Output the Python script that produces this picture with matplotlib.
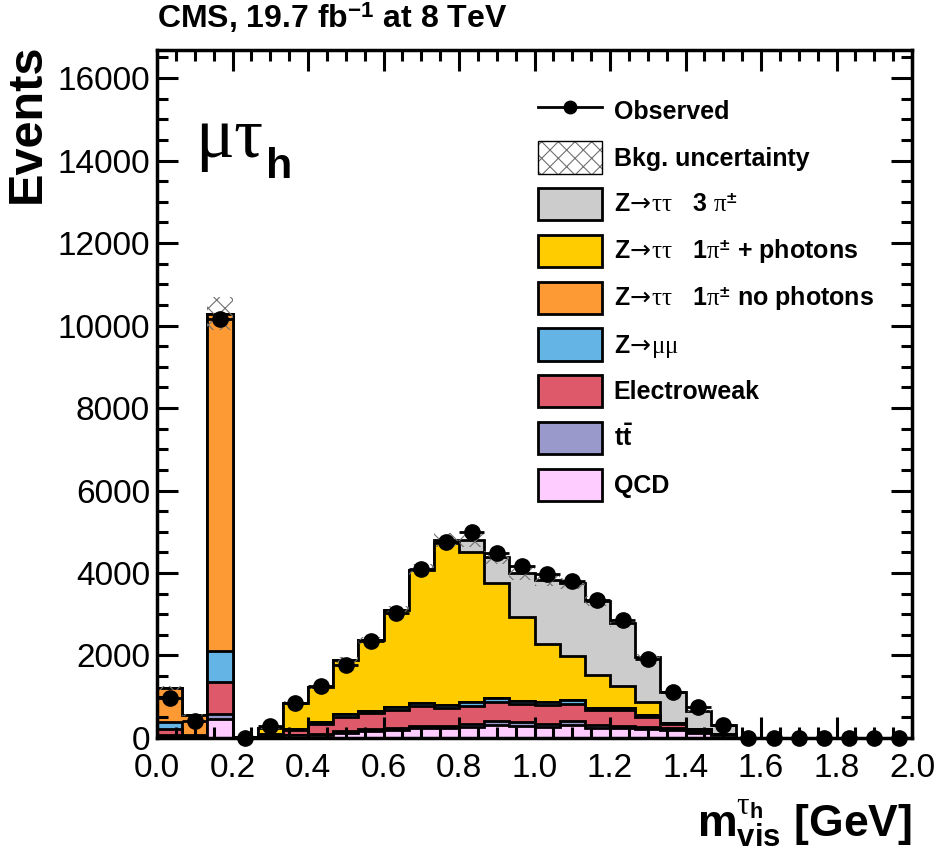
import numpy as np
import matplotlib
matplotlib.use('Agg')
import matplotlib.pyplot as plt
from matplotlib.patches import Patch
from matplotlib.lines import Line2D
from matplotlib.ticker import MultipleLocator, FormatStrFormatter

plt.rcParams['font.family'] = ['Liberation Sans', 'DejaVu Sans']
plt.rcParams['mathtext.fontset'] = 'custom'
plt.rcParams['mathtext.rm'] = 'Liberation Sans:bold'
plt.rcParams['mathtext.bf'] = 'Liberation Sans:bold'
plt.rcParams['mathtext.it'] = 'Liberation Serif'
plt.rcParams['mathtext.cal'] = 'DejaVu Sans'
plt.rcParams['hatch.linewidth'] = 0.8

# 30 bins, 0 - 2 GeV
edges = np.linspace(0.0, 2.0, 31)

observed = [970, 420, 10150, 0, 280, 850, 1250, 1760, 2340, 3030, 4100, 4760, 4990, 4480, 4180,
            3970, 3800, 3350, 2860, 1920, 1110, 750, 320, 0, 0, 0, 0, 0, 0, 0]

qcd = [40, 20, 470, 10, 30, 60, 70, 120, 170, 190, 240, 240, 260, 310, 290,
       260, 315, 240, 240, 220, 190, 110, 60, 0, 0, 0, 0, 0, 0, 0]
ttbar = [20, 5, 120, 5, 10, 20, 30, 40, 50, 60, 60, 60, 80, 100, 100,
         90, 100, 70, 60, 50, 40, 30, 20, 0, 0, 0, 0, 0, 0, 0]
ewk = [150, 30, 760, 10, 40, 120, 250, 350, 380, 420, 470, 420, 440, 460, 440,
       450, 410, 370, 380, 250, 120, 60, 20, 0, 0, 0, 0, 0, 0, 0]
zmm = [170, 20, 770, 5, 10, 20, 40, 60, 60, 70, 70, 80, 80, 90, 70,
       60, 90, 50, 40, 30, 20, 10, 5, 0, 0, 0, 0, 0, 0, 0]
ztt_1pi = [840, 480, 8170, 0, 0, 0, 0, 0, 0, 0, 0, 0, 0, 0, 0,
           0, 0, 0, 0, 0, 0, 0, 0, 0, 0, 0, 0, 0, 0, 0]
ztt_1pi_gam = [0, 0, 0, 0, 150, 630, 850, 1320, 1710, 2360, 3240, 3920, 3660, 2790, 2040,
               1420, 1065, 800, 540, 310, 0, 0, 0, 0, 0, 0, 0, 0, 0, 0]
ztt_3pi = [0, 0, 0, 0, 0, 0, 0, 0, 0, 0, 0, 80, 280, 630, 1050,
           1550, 1770, 1780, 1530, 1100, 750, 450, 220, 0, 0, 0, 0, 0, 0, 0]
bkg_unc = [50, 30, 400, 5, 15, 35, 50, 70, 90, 110, 140, 170, 170, 160, 150,
           140, 130, 120, 100, 70, 45, 30, 15, 0, 0, 0, 0, 0, 0, 0]

arrow = r'$\!\mathcal{\rightarrow}\!$'
labels = ['QCD', r'$\mathrm{t\bar{t}}$', 'Electroweak',
          'Z' + arrow + r'$\mu\mu$',
          'Z' + arrow + r'$\tau\tau$   1$\pi^{\pm}$ no photons',
          'Z' + arrow + r'$\tau\tau$   1$\pi^{\pm}$ + photons',
          'Z' + arrow + r'$\tau\tau$   3 $\pi^{\pm}$']
colors = ['#ffccff', '#9999cc', '#de5a6a', '#64b5e6', '#fd9a33', '#ffcc00', '#cccccc']

fig = plt.figure(figsize=(9.38, 8.61), dpi=100)
ax = fig.add_axes([0.1674, 0.1429, 0.8049, 0.799])

comps = np.array([qcd, ttbar, ewk, zmm, ztt_1pi, ztt_1pi_gam, ztt_3pi], dtype=float)
cum = np.cumsum(comps, axis=0)
for k in reversed(range(len(comps))):
    ax.stairs(cum[k], edges, baseline=0, fill=True, facecolor=colors[k],
              edgecolor='black', lw=2)

total = cum[-1]
unc = np.array(bkg_unc, dtype=float)
ax.stairs(total + unc, edges, baseline=total - unc, fill=True, facecolor='none',
          edgecolor='#707070', hatch='xx', lw=0)

obs = np.array(observed, dtype=float)
centers = 0.5 * (edges[:-1] + edges[1:])
width = edges[1] - edges[0]
ax.errorbar(centers, obs, xerr=width / 2, yerr=np.sqrt(obs), fmt='o', color='black',
            ms=11, lw=2, capsize=0, clip_on=False, zorder=5)

ax.set_xlim(0, 2.0)
ax.set_ylim(0, 16680)
ax.xaxis.set_major_locator(MultipleLocator(0.2))
ax.xaxis.set_minor_locator(MultipleLocator(0.05))
ax.yaxis.set_major_locator(MultipleLocator(2000))
ax.yaxis.set_minor_locator(MultipleLocator(500))
ax.xaxis.set_major_formatter(FormatStrFormatter('%.1f'))
ax.tick_params(which='both', direction='in', top=True, right=True, width=2.2,
               labelsize=24)
ax.tick_params(which='major', length=15)
ax.tick_params(which='minor', length=8)
ax.tick_params(axis='x', pad=11)
ax.tick_params(axis='y', pad=5)
for s in ax.spines.values():
    s.set_linewidth(2.5)

ax.set_ylabel('Events', fontsize=35, fontweight='bold', ha='right')
ax.yaxis.set_label_coords(-0.142, 1.01)

fig.text(0.972, 0.028, r'$\mathrm{m}_{\mathrm{vis}}^{\tau_{\mathrm{h}}}$ [GeV]', ha='right',
         va='baseline', fontsize=32, fontweight='bold')
fig.text(0.167, 0.967, r'CMS, 19.7 fb$^{-1}$ at 8 TeV', ha='left', va='baseline',
         fontsize=23, fontweight='bold')

ax.text(0.05, 0.845, r'$\mu\tau$', transform=ax.transAxes, fontsize=52, ha='left',
        va='baseline')
ax.text(0.145, 0.814, 'h', transform=ax.transAxes, fontsize=31, fontweight='bold',
        ha='left', va='baseline')

handles = [Line2D([], [], color='black', marker='o', ms=9, lw=2),
           (Patch(facecolor='white', edgecolor='#707070', hatch='xx', lw=0),
            Patch(facecolor='none', edgecolor='black', lw=1))]
leg_labels = ['Observed', 'Bkg. uncertainty']
for k in reversed(range(len(comps))):
    handles.append(Patch(facecolor=colors[k], edgecolor='black', lw=2))
    leg_labels.append(labels[k])
ax.legend(handles, leg_labels, loc='upper left', bbox_to_anchor=(0.505, 0.935),
          frameon=False, prop={'size': 18, 'weight': 'bold'}, handlelength=2.55,
          handleheight=1.6, labelspacing=0.585, handletextpad=0.47, borderpad=0,
          borderaxespad=0)

fig.savefig('out.png', dpi=100)
